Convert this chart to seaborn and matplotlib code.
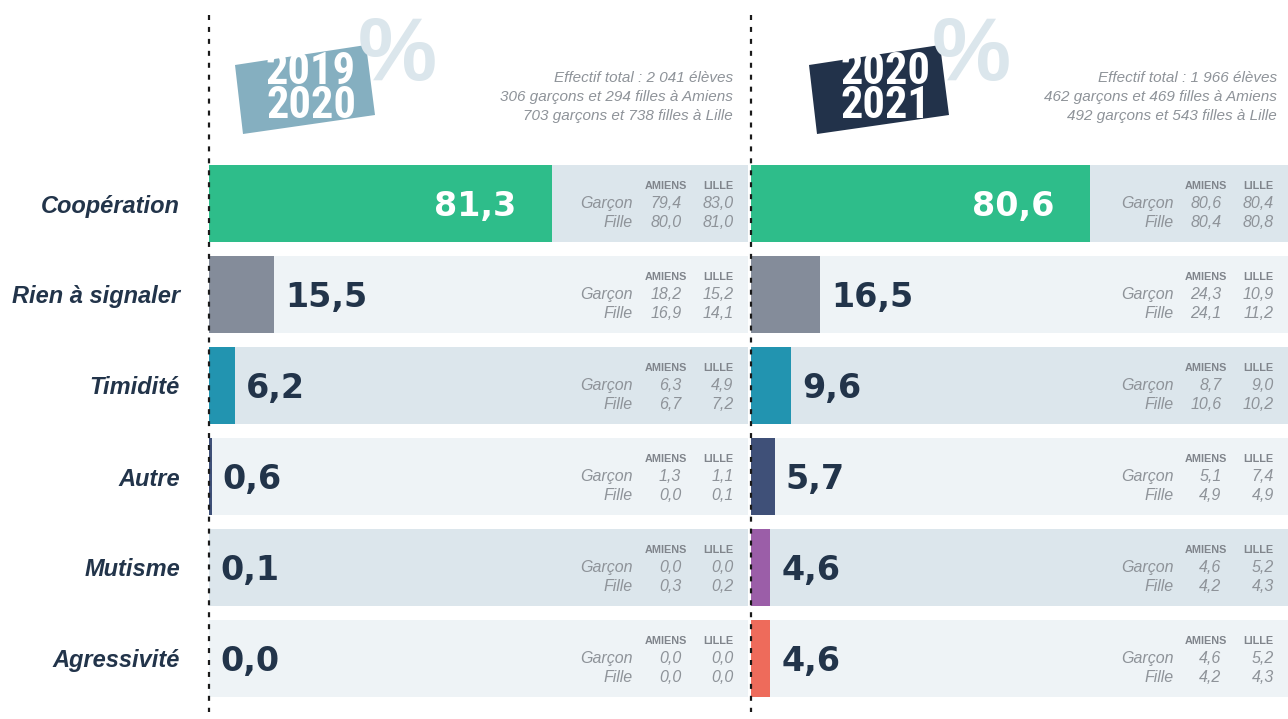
import numpy as np
import pandas as pd
import matplotlib
matplotlib.use("Agg")
import matplotlib.pyplot as plt
import seaborn as sns
from matplotlib import font_manager
from matplotlib.patches import Polygon
from matplotlib.lines import Line2D

categories = ["Coopération", "Rien à signaler", "Timidité", "Autre", "Mutisme", "Agressivité"]
total_2019 = [81.3, 15.5, 6.2, 0.6, 0.1, 0.0]
total_2020 = [80.6, 16.5, 9.6, 5.7, 4.6, 4.6]

garcon_amiens_2019 = [79.4, 18.2, 6.3, 1.3, 0.0, 0.0]
garcon_lille_2019 = [83.0, 15.2, 4.9, 1.1, 0.0, 0.0]
fille_amiens_2019 = [80.0, 16.9, 6.7, 0.0, 0.3, 0.0]
fille_lille_2019 = [81.0, 14.1, 7.2, 0.1, 0.2, 0.0]

garcon_amiens_2020 = [80.6, 24.3, 8.7, 5.1, 4.6, 4.6]
garcon_lille_2020 = [80.4, 10.9, 9.0, 7.4, 5.2, 5.2]
fille_amiens_2020 = [80.4, 24.1, 10.6, 4.9, 4.2, 4.2]
fille_lille_2020 = [80.8, 11.2, 10.2, 4.9, 4.3, 4.3]

years = [("2019\n2020", "#85afc0"), ("2020\n2021", "#22324a")]
effectifs = [
    "Effectif total : 2 041 élèves\n306 garçons et 294 filles à Amiens\n703 garçons et 738 filles à Lille",
    "Effectif total : 1 966 élèves\n462 garçons et 469 filles à Amiens\n492 garçons et 543 filles à Lille",
]

bar_colors = ["#2ebd8a", "#848c9a", "#2294b0", "#3f5078", "#9b5ea8", "#ee6b5b"]
bg_colors = ["#dce6ec", "#eef3f6"] * 3
dark = "#22344a"
grey = "#8e9399"
XMAX = 127.6

sns.set_theme(style="white")
plt.rcParams["font.family"] = ["Liberation Sans", "DejaVu Sans"]
plt.rcParams["lines.scale_dashes"] = False

names = {f.name for f in font_manager.fontManager.ttflist}
cond = [n for n in ("Liberation Sans Narrow", "DejaVu Sans Condensed", "Roboto Condensed") if n in names]
year_family = cond + ["DejaVu Sans"]

W, H = 1288, 719
fig = plt.figure(figsize=(W / 100, H / 100), dpi=100)


def px_axes(x0, x1, y0, y1):
    return fig.add_axes([x0 / W, 1 - y1 / H, (x1 - x0) / W, (y1 - y0) / H])


def fmt(v):
    return f"{v:.1f}".replace(".", ",")


panels = [
    (px_axes(209, 748, 158, 704), total_2019,
     (garcon_amiens_2019, garcon_lille_2019, fille_amiens_2019, fille_lille_2019)),
    (px_axes(751, 1288, 158, 704), total_2020,
     (garcon_amiens_2020, garcon_lille_2020, fille_amiens_2020, fille_lille_2020)),
]

for k, (ax, totals, sub) in enumerate(panels):
    df = pd.DataFrame({"cat": categories, "val": totals, "bg": [XMAX] * 6})
    sns.barplot(data=df, y="cat", x="bg", hue="cat", palette=bg_colors, orient="h",
                width=0.846, legend=False, ax=ax, linewidth=0, saturation=1)
    sns.barplot(data=df, y="cat", x="val", hue="cat", palette=bar_colors, orient="h",
                width=0.846, legend=False, ax=ax, linewidth=0, saturation=1)
    ax.set_xlim(0, XMAX)
    ax.set_ylim(5.5, -0.5)
    ax.set_xlabel("")
    ax.set_ylabel("")
    ax.set_xticks([])
    for s in ax.spines.values():
        s.set_visible(False)
    if k == 0:
        ax.tick_params(axis="y", length=0, pad=21)
        ax.set_yticks(range(6))
        ax.set_yticklabels(categories, fontsize=17, fontweight="bold", style="italic", color=dark)
    else:
        ax.set_yticks([])

    ga, gl, fa, fl = sub
    for i, v in enumerate(totals):
        if v > 50:
            ax.text(v - 8.5, i + 0.03, fmt(v), ha="right", va="center", fontsize=24,
                    fontweight="bold", color="white", family="DejaVu Sans")
        else:
            ax.text(v + 2.6, i + 0.03, fmt(v), ha="left", va="center", fontsize=24,
                    fontweight="bold", color=dark, family="DejaVu Sans")
        # petit tableau Amiens / Lille
        ax.text(108.2, i - 0.19, "AMIENS", ha="center", va="center", fontsize=7.8,
                fontweight="bold", color="#80858c")
        ax.text(120.6, i - 0.19, "LILLE", ha="center", va="center", fontsize=7.8,
                fontweight="bold", color="#80858c")
        ax.text(100.4, i, "Garçon", ha="right", va="center", fontsize=11.5, style="italic", color=grey)
        ax.text(100.4, i + 0.205, "Fille", ha="right", va="center", fontsize=11.5, style="italic", color=grey)
        for x, col in ((111.8, ga), (124.2, gl)):
            ax.text(x, i, fmt(col[i]), ha="right", va="center",
                    fontsize=11.5, style="italic", color=grey)
        for x, col in ((111.8, fa), (124.2, fl)):
            ax.text(x, i + 0.205, fmt(col[i]), ha="right", va="center",
                    fontsize=11.5, style="italic", color=grey)

# en-têtes : grand %, cartouche année incliné, effectifs
for k, dx in enumerate([0, 574]):
    label, colr = years[k]
    fig.text((397 + dx) / W, 1 - 57 / H, "%", ha="center", va="center", fontsize=64,
             fontweight="bold", color="#dbe6ec")
    box = [(235 + dx, 65), (366 + dx, 45), (375 + dx, 115), (243 + dx, 134)]
    fig.patches.append(Polygon([(x / W, 1 - y / H) for x, y in box], closed=True,
                               transform=fig.transFigure, facecolor=colr, edgecolor="none"))
    fig.text((311 + dx) / W, 1 - 89 / H, label, ha="center", va="center", fontsize=32,
             fontweight="bold", color="white", linespacing=0.74, family=year_family)
    fig.text((733 + dx * 544 / 574) / W, 1 - 97 / H, effectifs[k], ha="right", va="center",
             fontsize=11, style="italic", color=grey, linespacing=1.45)

# séparateurs pointillés
for x in (209, 751):
    fig.add_artist(Line2D([x / W, x / W], [1 - 15 / H, 1 - 712 / H], transform=fig.transFigure,
                          color="#1a1a1a", lw=1.6, dashes=(3.6, 5.0)))

fig.savefig("out.png", dpi=100)
